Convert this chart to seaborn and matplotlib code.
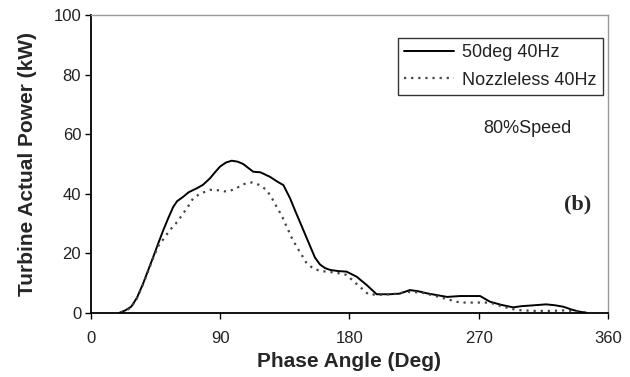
import matplotlib
matplotlib.use("Agg")
import matplotlib.pyplot as plt
import seaborn as sns
import pandas as pd

sns.set_theme(style="white")
plt.rcParams['font.family'] = ['Liberation Sans', 'DejaVu Sans']

series_solid_name = "50deg 40Hz"
solid_deg = [20, 24, 28, 32, 36.4, 40, 43.4, 47, 50.4, 54, 57.3, 60, 64.3, 68, 73.6, 78, 82.9, 86, 89.8, 94,
             98, 102, 106, 110, 113, 118, 124.6, 130, 134, 138.6, 142, 145.5, 149, 152.5, 156, 159.5, 163,
             166.4, 172, 178, 185, 192, 198.9, 208, 215, 222, 228, 234, 241, 248, 257, 264, 271, 277.8, 286,
             294, 300, 306, 317, 323, 329, 335, 340.5, 345]
solid_kw = [0, 0.8, 2.0, 5, 9.9, 14.5, 18.8, 23.5, 27.8, 32, 35.6, 37.5, 39.0, 40.5, 41.8, 43, 45.2, 47, 49.1, 50.5,
            51.1, 50.8, 50.0, 48.5, 47.4, 47.2, 45.7, 44, 42.9, 38.5, 34.5, 30.5, 26.5, 22.5, 18.5, 16.2, 15,
            14.4, 14, 13.8, 12.1, 9.3, 6.2, 6.2, 6.4, 7.6, 7.2, 6.5, 5.9, 5.3, 5.6, 5.6, 5.6, 3.7, 2.6,
            1.8, 2.2, 2.4, 2.8, 2.5, 2.0, 1.0, 0.3, 0]

series_dot_name = "Nozzleless 40Hz"
dot_deg = [21, 24, 28, 32, 36.4, 40, 43.4, 47, 49.2, 52, 55, 60, 64.3, 68, 71.2, 76, 82.9, 88, 94.5, 100,
           106, 112, 117, 122.3, 126, 129.3, 133, 136.3, 140, 143.2, 147, 150.2, 155, 160, 170, 178, 183,
           187.3, 193.1, 200, 210, 220, 230, 240, 250, 257, 268, 277.8, 287, 296.4, 308, 319.6, 331.2, 341.7, 345]
dot_kw = [0, 0.6, 1.8, 4.8, 9.7, 14.2, 18.5, 22.5, 23.9, 25.8, 27.8, 30.5, 33.4, 36, 38.5, 40, 41.3, 41.2, 40.7, 41.5,
          43.2, 43.8, 43, 41.3, 38.5, 35.6, 32.5, 28.9, 25, 22.2, 19.2, 16.6, 14.8, 14.0, 13.5, 12.7, 10.5,
          8.7, 6.2, 6.0, 6.2, 7.0, 6.8, 5.6, 4.3, 3.4, 3.4, 3.4, 2.0, 0.9, 0.6, 0.6, 0.8, 0.2, 0]

x_ticks = [0, 90, 180, 270, 360]
y_ticks = [0, 20, 40, 60, 80, 100]

df_solid = pd.DataFrame({"deg": solid_deg, "kw": solid_kw})
df_dot = pd.DataFrame({"deg": dot_deg, "kw": dot_kw})

fig = plt.figure(figsize=(6.3, 3.77), dpi=100)
ax = fig.add_axes([0.1444, 0.1706, 0.8206, 0.7888])

sns.lineplot(data=df_solid, x="deg", y="kw", ax=ax, color="black", linewidth=1.4,
             label=series_solid_name, sort=False, estimator=None)
sns.lineplot(data=df_dot, x="deg", y="kw", ax=ax, color="#444444", linewidth=1.6,
             label=series_dot_name, sort=False, estimator=None, linestyle=(0, (1, 2.2)))

ax.set_xlim(0, 360)
ax.set_ylim(0, 100)
ax.set_xticks(x_ticks)
ax.set_yticks(y_ticks)
ax.set_xticklabels([str(t) for t in x_ticks])
ax.set_yticklabels([str(t) for t in y_ticks])
ax.tick_params(axis='both', direction='out', length=4, width=1, color='black',
               labelsize=12, labelcolor='#222222', bottom=True, left=True)
ax.tick_params(axis='x', pad=9.5)
ax.tick_params(axis='y', pad=3)

for side in ['left', 'bottom']:
    ax.spines[side].set_color('black')
    ax.spines[side].set_linewidth(1.3)
for side in ['top', 'right']:
    ax.spines[side].set_color('#999999')
    ax.spines[side].set_linewidth(1.0)

ax.set_xlabel("Phase Angle (Deg)", fontsize=15, fontweight='bold', labelpad=4)
ax.set_ylabel("Turbine Actual Power (kW)", fontsize=15, fontweight='bold', labelpad=12)

leg = ax.legend(loc='upper right', bbox_to_anchor=(0.99, 0.924), borderaxespad=0,
                frameon=True, fancybox=False, fontsize=13, handlelength=2.8,
                handletextpad=0.45, labelspacing=0.6, borderpad=0.33)
leg.get_frame().set_edgecolor('black')
leg.get_frame().set_linewidth(1.0)
for t in leg.get_texts():
    t.set_color('#222222')

ax.text(0.845, 0.621, "80%Speed", transform=ax.transAxes, fontsize=13, ha='center', va='center',
        color='#222222')
ax.text(0.941, 0.365, "(b)", transform=ax.transAxes, fontsize=16, fontweight='bold', ha='center',
        va='center', family=['Liberation Serif', 'DejaVu Serif'])

fig.savefig("out.png", dpi=100)
